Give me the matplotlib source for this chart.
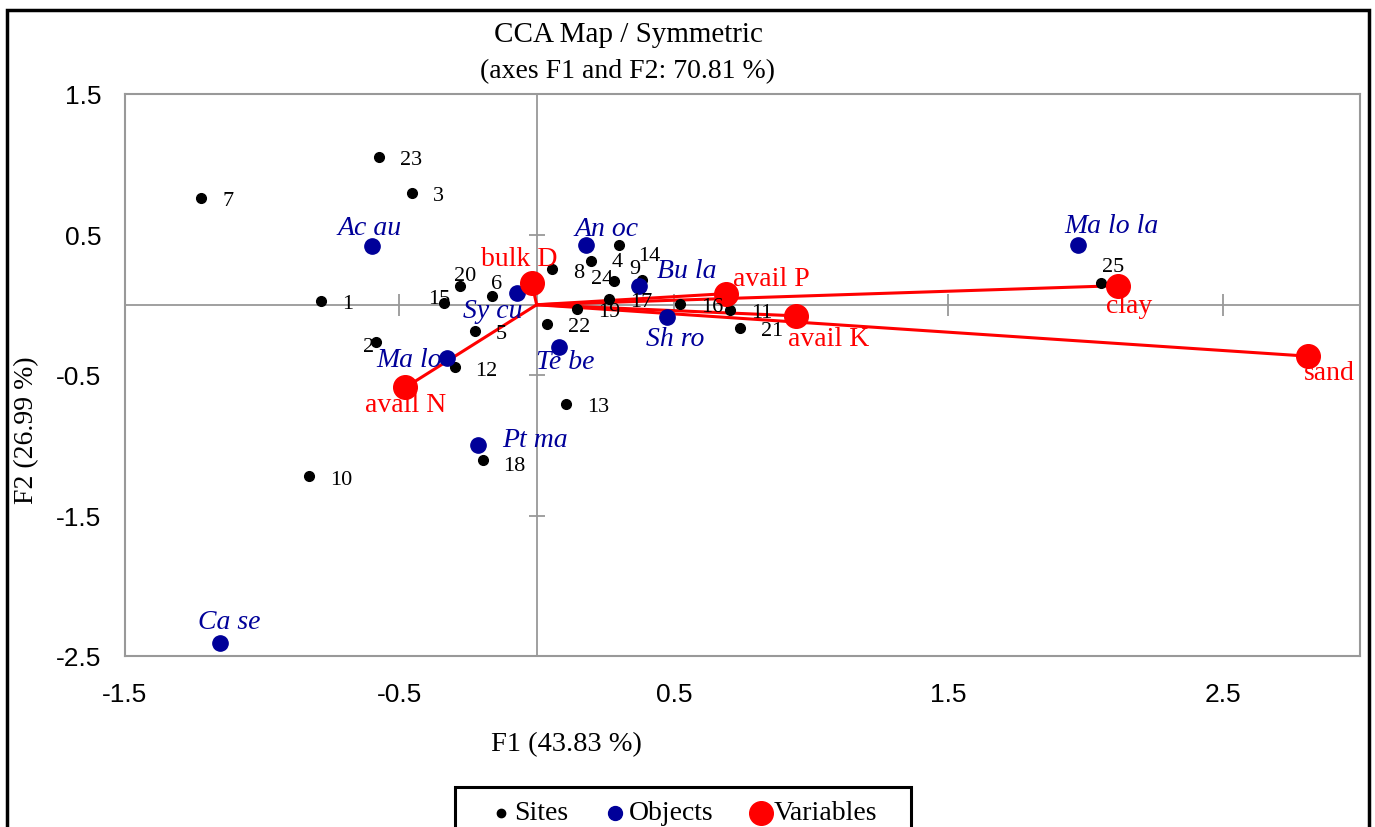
import matplotlib
matplotlib.use("Agg")
import matplotlib.pyplot as plt
from matplotlib.lines import Line2D
from matplotlib.patches import Rectangle

# sites (black)
site_names = ['1', '2', '3', '4', '5', '6', '7', '8', '9', '10', '11', '12', '13',
              '14', '15', '16', '17', '18', '19', '20', '21', '22', '23', '24', '25']
site_f1 = [-0.785, -0.584, -0.453, 0.197, -0.226, -0.164, -1.223, 0.055, 0.383, -0.828,
           0.704, -0.299, 0.106, 0.299, -0.336, 0.522, 0.263, -0.197, 0.146, -0.281,
           0.741, 0.036, -0.573, 0.281, 2.058]
site_f2 = [0.029, -0.265, 0.796, 0.308, -0.186, 0.065, 0.760, 0.251, 0.179, -1.219,
           -0.036, -0.444, -0.703, 0.423, 0.014, 0.007, 0.043, -1.104, -0.029, 0.136,
           -0.165, -0.136, 1.054, 0.172, 0.158]

# objects (blue)
obj_names = ['Ac au', 'An oc', 'Bu la', 'Sy cu', 'Ma lo', 'Te be', 'Sh ro', 'Pt ma', 'Ca se', 'Ma lo la']
obj_f1 = [-0.599, 0.179, 0.372, -0.073, -0.328, 0.080, 0.474, -0.212, -1.153, 1.971]
obj_f2 = [0.416, 0.423, 0.136, 0.086, -0.380, -0.301, -0.086, -0.996, -2.409, 0.423]

# variables (red)
var_names = ['bulk D', 'avail N', 'avail P', 'avail K', 'clay', 'sand']
var_f1 = [-0.018, -0.478, 0.690, 0.945, 2.120, 2.810]
var_f2 = [0.158, -0.588, 0.079, -0.079, 0.136, -0.366]

# label offsets in pixels (dx right, dy down)
site_off = {'20': (-6, -10), '15': (-16, -4), '6': (-1, -12), '2': (-13, 5),
            '14': (19, 10), '24': (-23, -2), '9': (-13, -11), '25': (1, -16), '4': (21, 0),
            '18': (21, 6)}
obj_off = {'Ac au': (-3, -19), 'An oc': (21, -17), 'Bu la': (48, -15), 'Sy cu': (-24, 18),
           'Ma lo': (-38, 1), 'Te be': (7, 14), 'Sh ro': (8, 22), 'Pt ma': (56, -5),
           'Ca se': (9, -22), 'Ma lo la': (34, -20)}
var_off = {'bulk D': (-12, -24), 'avail N': (0, 17), 'avail P': (45, -15),
           'avail K': (33, 23), 'clay': (11, 20), 'sand': (21, 16)}

serif = 'Liberation Serif'
sans = 'Liberation Sans'
blue = '#000099'
red = '#ff0000'
grey = '#999999'

W, H = 1375, 828
fig = plt.figure(figsize=(W / 100, H / 100), dpi=100)
ax = fig.add_axes([125 / W, 1 - 657 / H, (1360 - 125) / W, (657 - 95) / H])
ax.set_xlim(-1.5, 3.0)
ax.set_ylim(-2.5, 1.5)

for s in ax.spines.values():
    s.set_color(grey)
    s.set_linewidth(1.5)

xt = [-1.5, -0.5, 0.5, 1.5, 2.5]
yt = [-2.5, -1.5, -0.5, 0.5, 1.5]
ax.set_xticks(xt)
ax.set_yticks(yt)
ax.set_xticklabels([str(v) for v in xt])
ax.set_yticklabels([str(v) for v in yt])
ax.tick_params(axis='x', length=0, pad=19, labelsize=19)
ax.tick_params(axis='y', length=0, pad=17, labelsize=19)
for lab in ax.get_xticklabels() + ax.get_yticklabels():
    lab.set_fontfamily(sans)

# zero axes with small crossing ticks
ax.axhline(0, color=grey, lw=1.3, zorder=1)
ax.axvline(0, color=grey, lw=1.3, zorder=1)
ax.plot(xt, [0] * len(xt), '|', color=grey, ms=16, mew=1.3, zorder=1)
ax.plot([0] * len(yt), yt, '_', color=grey, ms=12, mew=1.3, zorder=1)

# vectors to variables
for x, y in zip(var_f1, var_f2):
    ax.plot([0, x], [0, y], color=red, lw=2.2, zorder=2)

ax.plot(site_f1, site_f2, 'o', color='black', ms=7, zorder=3, linestyle='none')
ax.plot(obj_f1, obj_f2, 'o', color=blue, ms=11, zorder=4, linestyle='none')
ax.plot(var_f1, var_f2, 'o', color=red, ms=17, zorder=5, linestyle='none')

for n, x, y in zip(site_names, site_f1, site_f2):
    dx, dy = site_off.get(n, (21, 3))
    ax.annotate(n, (x, y), xytext=(dx, -dy), textcoords='offset pixels',
                ha='left', va='center', fontsize=16, family=serif, color='black', zorder=6)

for n, x, y in zip(obj_names, obj_f1, obj_f2):
    dx, dy = obj_off[n]
    ax.annotate(n, (x, y), xytext=(dx, -dy), textcoords='offset pixels',
                ha='center', va='center', fontsize=20, family=serif, style='italic',
                color=blue, zorder=6)

for n, x, y in zip(var_names, var_f1, var_f2):
    dx, dy = var_off[n]
    ax.annotate(n, (x, y), xytext=(dx, -dy), textcoords='offset pixels',
                ha='center', va='center', fontsize=20, family=serif, color=red, zorder=6)

# titles and axis labels
fig.text(628 / W, 1 - 35 / H, 'CCA Map / Symmetric', ha='center', va='center',
         fontsize=21, family=serif)
fig.text(627 / W, 1 - 72 / H, '(axes F1 and F2: 70.81 %)', ha='center', va='center',
         fontsize=20, family=serif)
fig.text(566 / W, 1 - 745 / H, 'F1 (43.83 %)', ha='center', va='center',
         fontsize=20.5, family=serif)
fig.text(27 / W, 1 - 430 / H, 'F2 (26.99 %)', ha='center', va='center', rotation=90,
         fontsize=20, family=serif)

# outer border (bottom runs off the picture)
fig.patches.append(Rectangle((7 / W, -0.1), (1369 - 7) / W, 1.1 - 11 / H,
                             transform=fig.transFigure, fill=False, ec='black', lw=2.5))

# legend box, cut by the bottom edge like the reference
fig.patches.append(Rectangle((455 / W, -0.05), (911 - 455) / W, 0.05 + 1 - 788 / H,
                             transform=fig.transFigure, fill=True, fc='white',
                             ec='black', lw=2.2))
leg_names = ['Sites', 'Objects', 'Variables']
leg_colors = ['black', blue, red]
leg_sizes = [6, 10, 17]
leg_dot_x = [501, 615, 761]
leg_text_x = [514, 629, 774]
for n, c, ms, dxp, txp in zip(leg_names, leg_colors, leg_sizes, leg_dot_x, leg_text_x):
    fig.add_artist(Line2D([dxp / W], [1 - 814 / H], marker='o', ls='none', color=c, ms=ms,
                          transform=fig.transFigure))
    fig.text(txp / W, 1 - 814 / H, n, ha='left', va='center', fontsize=20, family=serif)

fig.savefig('out.png', dpi=100)
